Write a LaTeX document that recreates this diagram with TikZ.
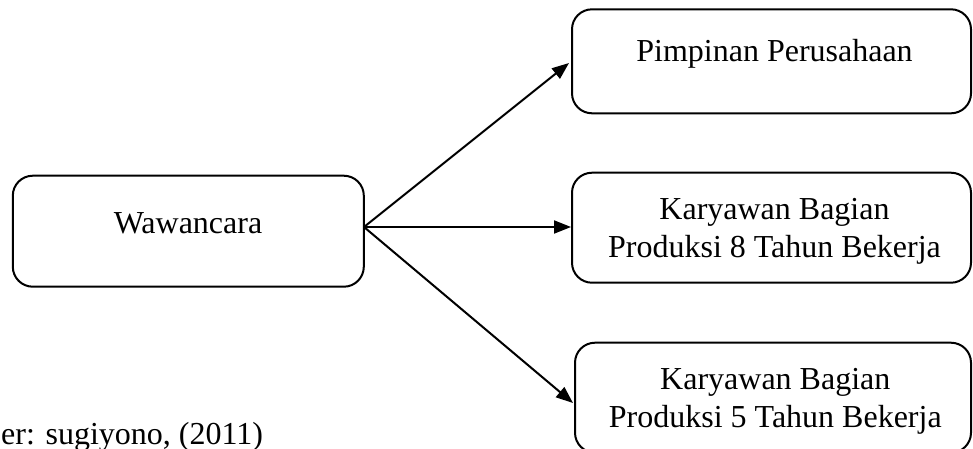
\documentclass[tikz,border=0pt]{standalone}
\usepackage{fontspec}
\setmainfont{Liberation Serif}
\usetikzlibrary{arrows.meta}
\begin{document}
\begin{tikzpicture}[x=1pt,y=-1pt,
  box/.style={draw=black, line width=2pt, rounded corners=20pt, inner sep=0pt},
  lbl/.style={font=\fontsize{32}{38}\selectfont, inner sep=0pt, anchor=base},
  arr/.style={line width=2pt, -{Triangle[length=17pt,width=13pt]}}]
\useasboundingbox (0,0) rectangle (973,448);
\clip (0,0) rectangle (973,448);
\node[box, minimum width=351pt, minimum height=111pt] (w) at (188.3,231.2) {};
\node[lbl] (wt) at (188,233) {Wawancara};
\node[box, minimum width=399pt, minimum height=104pt] (p) at (771.5,61.3) {};
\node[lbl] (pt) at (774.5,61) {Pimpinan Perusahaan};
\node[box, minimum width=399pt, minimum height=110pt] (k8) at (771.5,227.7) {};
\node[lbl] (k8a) at (774.5,219.3) {Karyawan Bagian};
\node[lbl] (k8b) at (774.5,257.3) {Produksi 8 Tahun Bekerja};
\node[box, minimum width=396pt, minimum height=110pt] (k5) at (773,397.7) {};
\node[lbl] (k5a) at (775.3,389.3) {Karyawan Bagian};
\node[lbl] (k5b) at (775.3,427.3) {Produksi 5 Tahun Bekerja};
\node[lbl, anchor=base west] (src) at (1,444.5) {er: sugiyono, (2011)};
\coordinate (s) at (364,227);
\coordinate (e1) at (569,63);
\coordinate (e3) at (573,403);
\draw[arr] (s) -- (e1);
\draw[arr] (s) -- (s -| k8.west);
\draw[arr] (s) -- (e3);
\end{tikzpicture}
\end{document}
